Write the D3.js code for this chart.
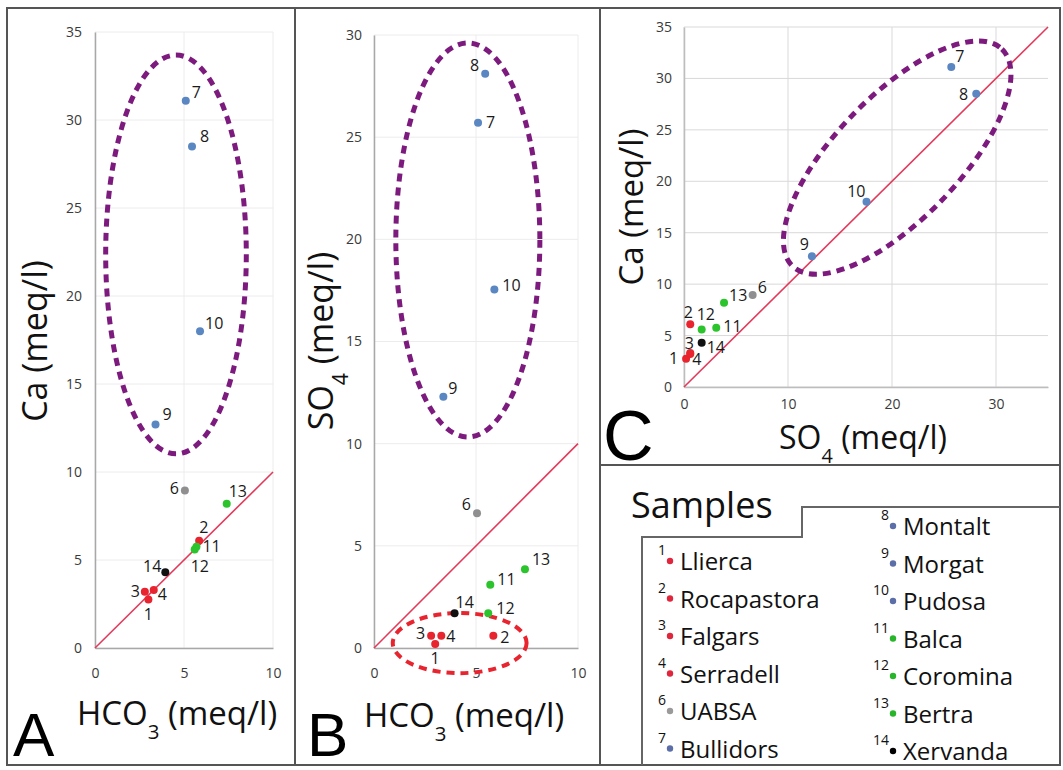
<!DOCTYPE html>
<html>
<head>
<meta charset="utf-8">
<script src="https://cdnjs.cloudflare.com/ajax/libs/d3/7.8.5/d3.min.js"></script>
<style>
  body { margin: 0; background: #fff; }
  text { font-family: "Open Sans", "Noto Sans", sans-serif; }
</style>
</head>
<body>
<svg id="chart"></svg>
<script>
const svgWidth = 1063,
    svgHeight = 770;

// samples (sample 5 is not in the figure)
const sampleIds = [1, 2, 3, 4, 6, 7, 8, 9, 10, 11, 12, 13, 14];
const sampleNames = ["Llierca", "Rocapastora", "Falgars", "Serradell", "UABSA", "Bullidors",
    "Montalt", "Morgat", "Pudosa", "Balca", "Coromina", "Bertra", "Xervanda"];
const sampleGroups = ["red", "red", "red", "red", "gray", "blue",
    "blue", "blue", "blue", "green", "green", "green", "black"];

// concentrations in meq/l
const hco3 = [3.0, 5.85, 2.8, 3.3, 5.05, 5.1, 5.45, 3.4, 5.9, 5.7, 5.6, 7.4, 3.95];
const ca   = [2.75, 6.1, 3.2, 3.3, 8.95, 31.1, 28.5, 12.7, 18.0, 5.75, 5.6, 8.2, 4.3];
const so4  = [0.2, 0.6, 0.6, 0.6, 6.6, 25.7, 28.1, 12.3, 17.55, 3.1, 1.7, 3.85, 1.7];

// tick labels
const ticksHco3 = [0, 5, 10];
const ticksCaA = [0, 5, 10, 15, 20, 25, 30, 35];
const ticksSo4B = [0, 5, 10, 15, 20, 25, 30];
const ticksSo4C = [0, 10, 20, 30];
const ticksCaC = [0, 5, 10, 15, 20, 25, 30, 35];

const groupColor = {
    red: "#e8242f",
    gray: "#8f8f8f",
    blue: "#5a86c2",
    green: "#2cc42c",
    black: "#111111"
};
const legendColor = {
    red: "#e0263d",
    gray: "#9a9a9a",
    blue: "#5b6ea8",
    green: "#29b52a",
    black: "#000000"
};

const samples = sampleIds.map(function(id, i) {
    return {id: id, name: sampleNames[i], group: sampleGroups[i],
        hco3: hco3[i], ca: ca[i], so4: so4[i]};
});

// label placement for each panel: id -> [dx, dy, anchor]
const labelsA = {
    1: [0, 20, "middle"], 2: [0, -8, "start"], 3: [-5, 5, "end"], 4: [4, 10, "start"],
    6: [-6, 4, "end"], 7: [6, -3, "start"], 8: [8, -4, "start"], 9: [7, -4, "start"],
    10: [5, -2, "start"], 11: [6, 5, "start"], 12: [-4, 23, "start"], 13: [2, -7, "start"],
    14: [-4, 0, "end"]
};
const labelsB = {
    1: [0, 20, "middle"], 2: [7, 7, "start"], 3: [-6, 3, "end"], 4: [5, 6, "start"],
    6: [-6, -3, "end"], 7: [8, 5, "start"], 8: [-6, -3, "end"], 9: [5, -3, "start"],
    10: [8, 2, "start"], 11: [7, 0, "start"], 12: [8, 1, "start"], 13: [7, -4, "start"],
    14: [1, -5, "start"]
};
const labelsC = {
    1: [-8, 5, "end"], 2: [-2, -6, "middle"], 3: [-1, -5, "middle"], 4: [2, 12, "start"],
    6: [5, -2, "start"], 7: [4, -5, "start"], 8: [-8, 6, "end"], 9: [-3, -6, "end"],
    10: [-1, -5, "end"], 11: [7, 4, "start"], 12: [-5, -9, "start"], 13: [5, -2, "start"],
    14: [5, 10, "start"]
};

const chart = d3.select("#chart")
    .attr("width", svgWidth)
    .attr("height", svgHeight);

// panel frames
const frameColor = "#555";
chart.append("rect")
    .attr("x", 7).attr("y", 8).attr("width", 1053).attr("height", 757)
    .attr("fill", "none").attr("stroke", frameColor).attr("stroke-width", 2);
chart.append("line").attr("x1", 295).attr("x2", 295).attr("y1", 8).attr("y2", 765)
    .attr("stroke", frameColor).attr("stroke-width", 2);
chart.append("line").attr("x1", 600).attr("x2", 600).attr("y1", 8).attr("y2", 765)
    .attr("stroke", frameColor).attr("stroke-width", 2);
chart.append("line").attr("x1", 600).attr("x2", 1060).attr("y1", 465).attr("y2", 465)
    .attr("stroke", frameColor).attr("stroke-width", 2);

/**
 * draws one scatter panel
 * @param {*} p panel config: pixel ranges, domains, ticks, keys and labels
 */
function drawPanel(p) {
    var xScale = d3.scaleLinear().domain(p.xDomain).range(p.xRange);
    var yScale = d3.scaleLinear().domain(p.yDomain).range(p.yRange);
    var g = chart.append("g");

    // grid
    g.append("g").selectAll("line").data(p.yTicks).enter().append("line")
        .attr("x1", p.xRange[0]).attr("x2", p.xRange[1])
        .attr("y1", d => yScale(d)).attr("y2", d => yScale(d))
        .attr("stroke", p.gridColor).attr("stroke-width", 1);
    g.append("g").selectAll("line").data(p.xTicks).enter().append("line")
        .attr("x1", d => xScale(d)).attr("x2", d => xScale(d))
        .attr("y1", p.yRange[0]).attr("y2", p.yRange[1])
        .attr("stroke", p.gridColor).attr("stroke-width", 1);

    // axes
    var xAxis = d3.axisBottom(xScale).tickValues(p.xTicks).tickSize(0).tickPadding(p.xPad);
    var yAxis = d3.axisLeft(yScale).tickValues(p.yTicks).tickSize(0).tickPadding(p.yPad);
    var gx = g.append("g").attr("transform", "translate(0," + p.yRange[0] + ")").call(xAxis);
    var gy = g.append("g").attr("transform", "translate(" + p.xRange[0] + ",0)").call(yAxis);
    [gx, gy].forEach(function(a) {
        a.select(".domain").attr("stroke", p.axisColor).attr("stroke-width", 1.5);
        a.selectAll("text").attr("fill", "#3a3a3a").style("font-size", "14px")
            .style("font-family", "'Open Sans', sans-serif");
    });

    // 1:1 line
    var top = Math.min(p.xDomain[1], p.yDomain[1]);
    g.append("line")
        .attr("x1", xScale(0)).attr("y1", yScale(0))
        .attr("x2", xScale(top)).attr("y2", yScale(top))
        .attr("stroke", "#e33a5c").attr("stroke-width", 1.6);

    // dashed groupings
    p.ellipses.forEach(function(e) {
        var cx = xScale(e.cx), cy = yScale(e.cy);
        g.append("ellipse")
            .attr("cx", cx).attr("cy", cy)
            .attr("rx", xScale(e.cx + e.rx) - cx)
            .attr("ry", cy - yScale(e.cy + e.ry))
            .attr("transform", "rotate(" + (e.rot || 0) + "," + cx + "," + cy + ")")
            .attr("fill", "none")
            .attr("stroke", e.color)
            .attr("stroke-width", e.width)
            .attr("stroke-dasharray", e.dash);
    });

    // points
    g.append("g").selectAll("circle").data(samples).enter().append("circle")
        .attr("cx", d => xScale(d[p.xKey]))
        .attr("cy", d => yScale(d[p.yKey]))
        .attr("r", 4)
        .attr("fill", d => groupColor[d.group]);

    // number labels
    g.append("g").selectAll("text").data(samples).enter().append("text")
        .attr("x", d => xScale(d[p.xKey]) + p.labels[d.id][0])
        .attr("y", d => yScale(d[p.yKey]) + p.labels[d.id][1])
        .attr("text-anchor", d => p.labels[d.id][2])
        .style("font-size", "16px")
        .attr("fill", "#1a1a1a")
        .text(d => d.id);

    // axis titles
    title(p.xTitle[0], p.xTitle[1], 0, p.xTitle[2], p.xTitle[3]);
    title(p.yTitle[0], p.yTitle[1], -90, p.yTitle[2], p.yTitle[3]);

    // panel letter
    chart.append("text")
        .attr("x", p.letter[1]).attr("y", p.letter[2])
        .style("font-size", p.letter[3] + "px")
        .style("font-family", "'Liberation Sans', Arial, sans-serif")
        .attr("fill", "#000")
        .text(p.letter[0]);
}

// title with optional subscript, e.g. HCO3 (meq/l)
function title(x, y, rot, parts, size) {
    var t = chart.append("text")
        .attr("transform", "translate(" + x + "," + y + ") rotate(" + rot + ")")
        .attr("text-anchor", "middle")
        .style("font-size", size + "px")
        .attr("fill", "#111");
    t.append("tspan").text(parts[0]);
    if (parts[1]) {
        t.append("tspan").attr("baseline-shift", "sub").style("font-size", (size * 0.62) + "px").text(parts[1]);
    }
    t.append("tspan").text(parts[2]);
}

drawPanel({
    xDomain: [0, 10], yDomain: [0, 35],
    xRange: [95, 273], yRange: [648, 32],
    xTicks: ticksHco3, yTicks: ticksCaA,
    xKey: "hco3", yKey: "ca",
    xPad: 20, yPad: 13,
    gridColor: "#ececec", axisColor: "#a8a8a8",
    labels: labelsA,
    ellipses: [
        {cx: 4.55, cy: 22.36, rx: 3.95, ry: 11.33, color: "#7c1a7e", width: 5, dash: "8,6"}
    ],
    xTitle: [177, 725, ["HCO", "3", " (meq/l)"], 33],
    yTitle: [47, 341, ["Ca (meq/l)", "", ""], 34],
    letter: ["A", 13, 756, 62]
});

drawPanel({
    xDomain: [0, 10], yDomain: [0, 30],
    xRange: [374, 578], yRange: [648, 35],
    xTicks: ticksHco3, yTicks: ticksSo4B,
    xKey: "hco3", yKey: "so4",
    xPad: 20, yPad: 12,
    gridColor: "#ececec", axisColor: "#a8a8a8",
    labels: labelsB,
    ellipses: [
        {cx: 4.6, cy: 19.97, rx: 3.53, ry: 9.64, color: "#7c1a7e", width: 5, dash: "8,6"},
        {cx: 4.2, cy: 0.24, rx: 3.28, ry: 1.47, color: "#e8242f", width: 4, dash: "8,6"}
    ],
    xTitle: [464, 727, ["HCO", "3", " (meq/l)"], 33],
    yTitle: [333, 341, ["SO", "4", " (meq/l)"], 34],
    letter: ["B", 307, 756, 62]
});

drawPanel({
    xDomain: [0, 35], yDomain: [0, 35],
    xRange: [684, 1048], yRange: [387, 27],
    xTicks: ticksSo4C, yTicks: ticksCaC,
    xKey: "so4", yKey: "ca",
    xPad: 12, yPad: 12,
    gridColor: "#d9d9d9", axisColor: "#bdbdbd",
    labels: labelsC,
    ellipses: [
        {cx: 20.5, cy: 22.3, rx: 14.5, ry: 6.0, rot: -46, color: "#7c1a7e", width: 5, dash: "8,6"}
    ],
    xTitle: [863, 449, ["SO", "4", " (meq/l)"], 32],
    yTitle: [643, 207, ["Ca (meq/l)", "", ""], 33],
    letter: ["C", 603, 460, 70]
});

// legend
chart.append("text")
    .attr("x", 631).attr("y", 518)
    .style("font-size", "36px").attr("fill", "#111")
    .text("Samples");
chart.append("path")
    .attr("d", d3.line()([[642, 765], [642, 537], [802, 537], [802, 507], [1060, 507]]))
    .attr("fill", "none").attr("stroke", "#666").attr("stroke-width", 2);

const legendLeft = samples.slice(0, 6);
const legendRight = samples.slice(6);

function legendColumn(items, textX, firstY) {
    var rows = chart.append("g").selectAll("g").data(items).enter().append("g")
        .attr("transform", (d, i) => "translate(" + textX + "," + (firstY + i * 37.5) + ")");
    rows.append("circle").attr("cx", -10).attr("cy", -9).attr("r", 3.2)
        .attr("fill", d => legendColor[d.group]);
    rows.append("text").attr("x", -14).attr("y", -15)
        .attr("text-anchor", "end").style("font-size", "14px").attr("fill", "#111")
        .text(d => d.id);
    rows.append("text").attr("x", 0).attr("y", 0)
        .style("font-size", "24px").attr("fill", "#111")
        .text(d => d.name);
}
legendColumn(legendLeft, 680, 570);
legendColumn(legendRight, 903, 535);
</script>
</body>
</html>
